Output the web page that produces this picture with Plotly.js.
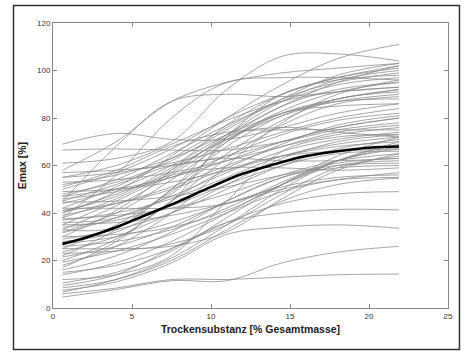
<!DOCTYPE html>
<html>
<head>
<meta charset="utf-8">
<script src="https://cdn.plot.ly/plotly-3.0.1.min.js"></script>
<style>html,body{margin:0;padding:0;background:#fff;}#chart{width:464px;height:352px;}</style>
</head>
<body>
<div id="chart"></div>
<script>
// x positions (Trockensubstanz [% Gesamtmasse]) at which each curve was read
var xKnots = [0.6, 4, 7.5, 11, 14.5, 18, 21.9];

// individual curves: Emax [%] read at xKnots
var curves = [
  [61, 63, 70, 92, 106, 107, 104],
  [45, 68, 87, 90, 89, 91, 93],
  [38, 56, 80, 95, 97, 97, 96],
  [58, 70, 87, 95, 99, 101, 103],
  [40, 49, 64, 80, 94, 105, 111],
  [30, 41, 58, 77, 90, 97, 101],
  [35, 45, 57, 73, 87, 96, 100],
  [50, 57, 67, 80, 90, 97, 102],
  [42, 51, 63, 76, 88, 95, 99],
  [28, 32, 45, 72, 90, 96, 98],
  [47, 54, 65, 77, 87, 94, 97],
  [33, 43, 56, 71, 83, 91, 95],
  [55, 60, 69, 79, 87, 91, 93],
  [25, 35, 49, 65, 79, 88, 91],
  [41, 47, 59, 71, 81, 87, 90],
  [20, 29, 45, 63, 77, 86, 89],
  [52, 56, 63, 73, 82, 87, 88],
  [36, 38, 48, 70, 82, 85, 86],
  [69, 73.5, 71, 71, 76, 82, 86],
  [44, 50, 60, 73, 85, 95, 102],
  [18, 26, 40, 60, 78, 90, 96],
  [48, 53, 62, 75, 88, 98, 103],
  [32, 40, 54, 70, 82, 88, 92],
  [22, 33, 50, 68, 81, 88, 92],
  [38, 46, 58, 72, 85, 92, 95],
  [66.5, 67, 66.5, 66.5, 70, 75, 78],
  [42, 42, 42, 44, 52, 62, 70],
  [47, 50, 55, 62, 70, 76, 80],
  [39, 44, 51, 60, 68, 74, 77],
  [53, 54, 57, 62, 68, 73, 76],
  [31.6, 38, 47, 57, 66, 71, 74],
  [23.6, 30, 40, 52, 63, 70, 73],
  [37, 40, 46, 55, 64, 69, 72],
  [49, 50, 53, 58, 64, 68, 70],
  [25, 25, 26, 32, 46, 58, 65],
  [34, 37, 43, 52, 60, 65, 66],
  [45, 52, 60, 63, 62, 62, 63],
  [21.5, 26, 34, 45, 55, 61, 63],
  [16, 22, 32, 45, 55, 59, 60],
  [40, 48, 56, 59, 59, 58, 59],
  [27, 30, 36, 44, 51, 55, 56],
  [19.4, 24, 31, 40, 49, 54, 57],
  [14, 19, 28, 40, 52, 60, 62],
  [35, 36, 39, 44, 50, 54, 55],
  [44.6, 45, 47, 51, 56, 60, 61],
  [29, 33, 40, 50, 60, 67, 71],
  [10.5, 15, 24, 38, 52, 62, 67],
  [6.7, 12, 21, 35, 50, 62, 69],
  [51, 58, 68, 74, 75, 75, 75],
  [23, 24, 27, 35, 48, 59, 64],
  [37.5, 39, 42, 48, 56, 62, 65],
  [12, 14, 22, 45, 66, 72, 73],
  [55, 57, 61, 67, 74, 80, 84],
  [33, 34, 50, 72, 76, 74, 72],
  [26, 28, 33, 42, 53, 62, 68],
  [57, 58, 60, 64, 70, 76, 80],
  [30, 31, 34, 41, 52, 64, 72],
  [41, 44, 50, 59, 69, 77, 81],
  [17, 28, 45, 58, 64, 66, 67],
  [46, 49, 55, 64, 73, 79, 82],
  [8.5, 12, 20, 33, 45, 52, 54.7],
  [15, 18, 25, 36, 44, 48, 49],
  [9.5, 14, 25, 36, 40, 41.5, 41.3],
  [7.5, 11, 19, 31, 34, 35, 33.6],
  [4.6, 7.8, 11.5, 11.5, 19, 23.5, 26],
  [6, 8.4, 12, 12, 13, 14, 14.3]
];

// thick mean curve
var meanX = [0.6, 2, 4, 6, 8, 10, 12, 14, 16, 18, 20, 21.9];
var meanY = [27, 29.5, 34, 39.5, 45, 51, 56.5, 60.5, 64, 66, 67.5, 68];

var xTicks = [0, 5, 10, 15, 20, 25];
var yTicks = [0, 20, 40, 60, 80, 100, 120];

var traces = curves.map(function (c) {
  return {x: xKnots, y: c, mode: 'lines', type: 'scatter',
          line: {color: '#888888', width: 0.75, shape: 'spline', smoothing: 1},
          hoverinfo: 'skip', showlegend: false};
});
traces.push({x: meanX, y: meanY, mode: 'lines', type: 'scatter',
             line: {color: '#000', width: 2.6, shape: 'spline'},
             showlegend: false});

var tickFont = {family: 'Liberation Sans, Arial, sans-serif', size: 8, color: '#333'};
var layout = {
  width: 464, height: 352,
  margin: {l: 53, r: 16, t: 23, b: 44},
  paper_bgcolor: '#fff', plot_bgcolor: '#fff',
  xaxis: {range: [0, 25], tickvals: xTicks, ticktext: xTicks.map(String),
          ticks: 'inside', ticklen: 4, tickcolor: '#888', showline: true, linecolor: '#888',
          linewidth: 1, mirror: 'ticks', showgrid: false, zeroline: false, tickfont: tickFont,
          title: {text: 'Trockensubstanz [% Gesamtmasse]', standoff: 6,
                  font: {family: 'Liberation Sans, Arial, sans-serif', size: 10.5, color: '#222', weight: 'bold'}}},
  yaxis: {range: [0, 120], tickvals: yTicks, ticktext: yTicks.map(String),
          ticks: 'inside', ticklen: 4, tickcolor: '#888', showline: true, linecolor: '#888',
          linewidth: 1, mirror: 'ticks', showgrid: false, zeroline: false, tickfont: tickFont,
          title: {text: 'Emax [%]', standoff: 8,
                  font: {family: 'Liberation Sans, Arial, sans-serif', size: 10.5, color: '#222', weight: 'bold'}}},
  shapes: [{type: 'rect', xref: 'paper', yref: 'paper', x0: -0.1, x1: 1.029, y0: -0.1456, y1: 1.0614,
            line: {color: '#333', width: 1.5}}]
};

Plotly.newPlot('chart', traces, layout, {staticPlot: true, displayModeBar: false});
</script>
</body>
</html>
